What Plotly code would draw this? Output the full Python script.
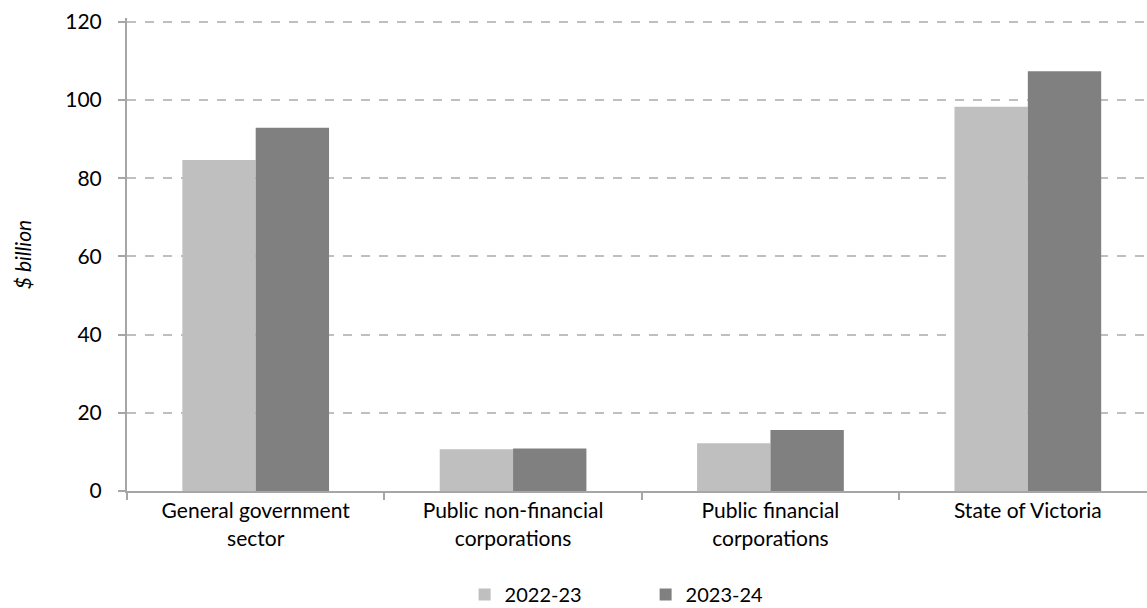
import plotly.graph_objects as go

categories = ["General government<br>sector", "Public non-financial<br>corporations",
              "Public financial<br>corporations", "State of Victoria"]
series_names = ["2022-23", "2023-24"]
values_2022_23 = [84.7, 10.7, 12.2, 98.3]
values_2023_24 = [92.9, 10.9, 15.6, 107.4]
colors = ["#bfbfbf", "#808080"]
y_ticks = [0, 20, 40, 60, 80, 100, 120]

FONT = "Lato, Carlito, Calibri, sans-serif"
FS = 21

fig = go.Figure()
for name, vals, col in zip(series_names, [values_2022_23, values_2023_24], colors):
    fig.add_trace(go.Bar(x=categories, y=vals, name=name, marker_color=col,
                         marker_line_width=0))

fig.update_layout(
    width=1147, height=608, autosize=False,
    margin=dict(l=127, r=0, t=18, b=117),
    paper_bgcolor="white", plot_bgcolor="white",
    barmode="group", bargap=0.43, bargroupgap=0,
    font=dict(family=FONT, size=FS, color="#000000"),
    showlegend=True,
    legend=dict(orientation="h", x=0.331, xanchor="left",
                yref="container", y=0.022, yanchor="middle",
                entrywidth=136, entrywidthmode="pixels",
                font=dict(size=FS - 1, family=FONT), itemsizing="constant",
                bgcolor="rgba(0,0,0,0)", borderwidth=0),
)
fig.update_xaxes(
    type="category", range=[-0.5, 3.463], automargin=False,
    showline=True, linecolor="#a6a6a6", linewidth=2,
    ticks="outside", tickson="boundaries", ticklen=7, tickcolor="#a6a6a6", tickwidth=2,
    showgrid=False, tickfont=dict(size=FS, family=FONT),
)
fig.update_yaxes(
    range=[0, 121], tickvals=y_ticks, automargin=False,
    showline=True, linecolor="#a6a6a6", linewidth=2,
    ticks="outside", ticklen=7, tickcolor="#a6a6a6", tickwidth=2,
    ticklabelstandoff=12,
    showgrid=True, gridcolor="#bfbfbf", griddash="dash", gridwidth=1.5,
    zeroline=False, tickfont=dict(size=FS, family=FONT),
    title=dict(text="<i>$ billion</i>", font=dict(size=FS, family=FONT), standoff=28),
)

fig.write_html("out.html", config={"displayModeBar": False},
               post_script="document.body.style.margin='0';")
